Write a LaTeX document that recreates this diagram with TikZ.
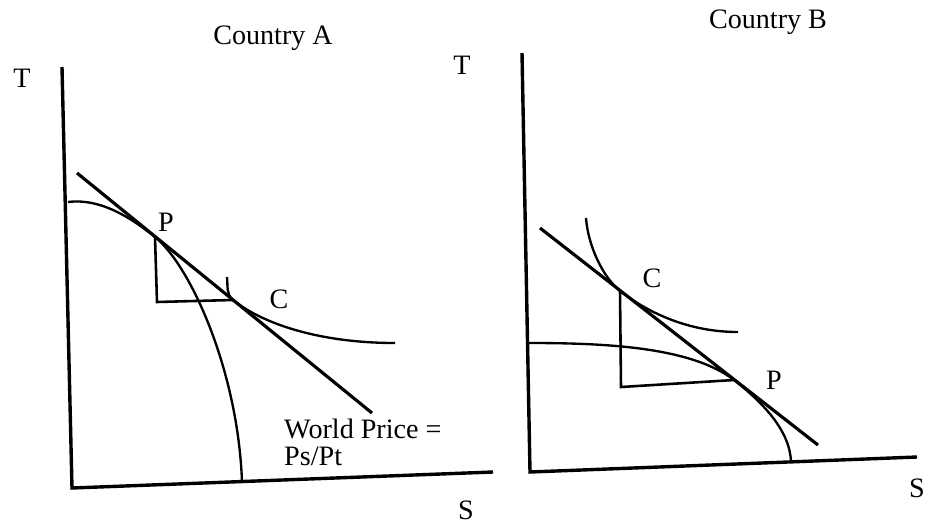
\documentclass[tikz,border=0pt]{standalone}
\usepackage{fontspec}
\setmainfont{Liberation Serif}
\usetikzlibrary{positioning}

\begin{document}
\begin{tikzpicture}[x=0.03cm,y=-0.03cm,
    axis/.style={line width=2.9pt},
    price/.style={line width=2.7pt},
    curve/.style={line width=2pt},
    lbl/.style={font=\fontsize{24}{23}\selectfont, inner sep=0pt}]
    \useasboundingbox (0,0) rectangle (932,529);

    % Country A: points
    \coordinate (TA) at (62,67);
    \coordinate (OA) at (72,488);
    \coordinate (SA) at (493,472);
    \coordinate (WA1) at (77,173);
    \coordinate (WA2) at (372,413);
    \coordinate (PA) at (155,237);
    \coordinate (CA) at (233,300);
    \coordinate (KA) at (157,302); % corner of triangle

    % Country A: axes, price line, curves
    \draw[axis] (TA) -- (OA) -- (SA);
    \draw[price] (WA1) -- (WA2);
    \draw[curve] (68,202) .. controls (100,198) and (130,217) .. (PA)
        .. controls (190,265) and (238,370) .. (242,482); % production frontier
    \draw[curve] (227,277) .. controls (228,287) and (226,294) .. (CA)
        .. controls (263,324) and (320,343) .. (395,343); % indifference curve
    \draw[line width=2.2pt] (PA) -- (KA) -- (CA);

    % Country A: labels
    \node[lbl] (titleA) at (273,38) {Country A};
    \node[lbl] (yA) at (22,78) {T};
    \node[lbl] (xA) at (466,510) {S};
    \node[lbl] (labPA) at (166,222) {P};
    \node[lbl] (labCA) at (279,299) {C};
    \node[lbl, anchor=west, align=left] (world) at (284,442) {World Price =\\Ps/Pt};

    % Country B: points
    \coordinate (TB) at (522,53);
    \coordinate (OB) at (530,472);
    \coordinate (SB) at (917,457);
    \coordinate (WB1) at (540,228);
    \coordinate (WB2) at (818,445);
    \coordinate (CB) at (620,291);
    \coordinate (PB) at (734,380);
    \coordinate (KB) at (621,387); % corner of triangle

    % Country B: axes, price line, curves
    \draw[axis] (TB) -- (OB) -- (SB);
    \draw[price] (WB1) -- (WB2);
    \draw[curve] (528,343) .. controls (600,343) and (690,346) .. (PB)
        .. controls (762,402) and (790,430) .. (791,462); % production frontier
    \draw[curve] (586,218) .. controls (588,245) and (602,276) .. (CB)
        .. controls (650,314) and (690,332) .. (738,332); % indifference curve
    \draw[line width=2.2pt] (CB) -- (KB) -- (PB);

    % Country B: labels
    \node[lbl] (titleB) at (768,22) {Country B};
    \node[lbl] (yB) at (462,65) {T};
    \node[lbl] (xB) at (917,488) {S};
    \node[lbl] (labCB) at (652,278) {C};
    \node[lbl] (labPB) at (774,380) {P};
\end{tikzpicture}
\end{document}
